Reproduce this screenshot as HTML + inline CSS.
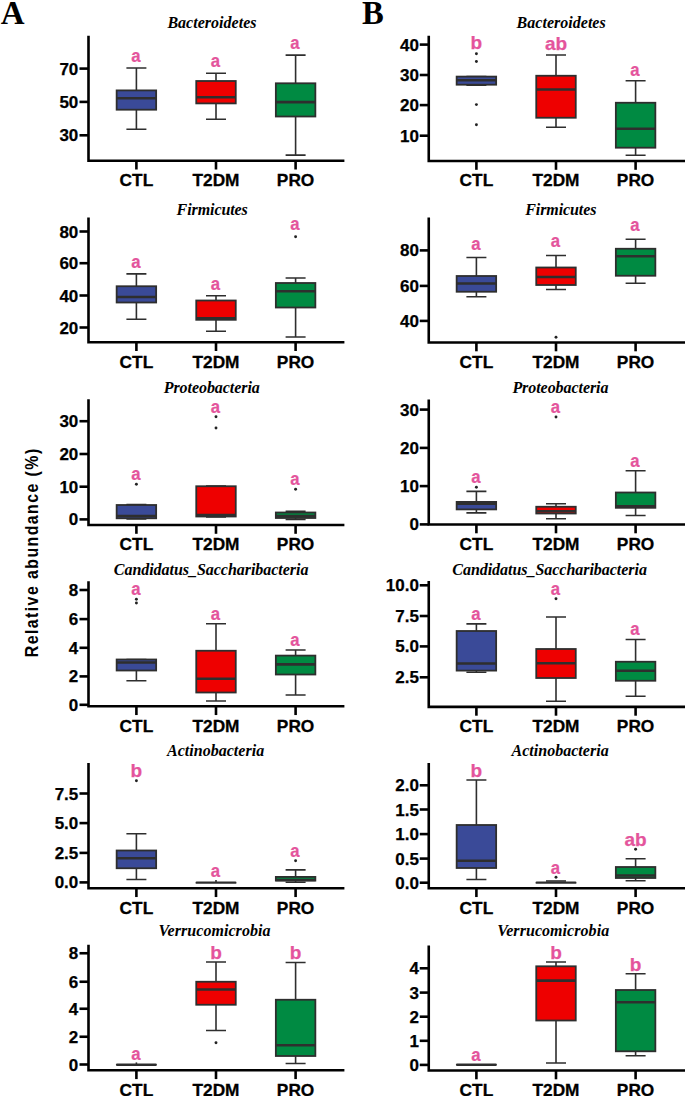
<!DOCTYPE html>
<html><head><meta charset="utf-8"><style>
html,body{margin:0;padding:0;background:#fff;}
body{width:685px;height:1096px;overflow:hidden;}
svg{display:block;}
.t{font-family:"Liberation Serif",serif;font-weight:bold;font-style:italic;font-size:16px;fill:#000;}
.yl{font-family:"Liberation Sans",sans-serif;font-weight:bold;font-size:17px;text-anchor:end;fill:#000;stroke:#000;stroke-width:0.25;}
.xl{font-family:"Liberation Sans",sans-serif;font-weight:bold;font-size:17.3px;text-anchor:middle;fill:#000;stroke:#000;stroke-width:0.3;}
.lt{font-family:"Liberation Sans",sans-serif;font-weight:bold;font-size:19px;text-anchor:middle;fill:#e4549c;stroke:#e4549c;stroke-width:0.25;}
.pl{font-family:"Liberation Serif",serif;font-weight:bold;font-size:34px;fill:#000;}
.yt{font-family:"Liberation Sans",sans-serif;font-weight:bold;font-size:19px;text-anchor:middle;fill:#000;}
.ax{stroke:#000;stroke-width:2.6;fill:none;}
.wh{stroke:#2e2e2e;stroke-width:1.6;fill:none;}
.bx{stroke:#2e2e2e;stroke-width:1.8;}
.md{stroke:#2e2e2e;stroke-width:2.6;}
</style></head><body>
<svg width="685" height="1096" viewBox="0 0 685 1096">
<text class="pl" transform="translate(0.8 23.9) scale(0.97 1)">A</text>
<text class="pl" transform="translate(362.0 23.9) scale(0.96 1)">B</text>
<text class="yt" transform="translate(38.2 552.3) rotate(-90) scale(0.84 1)" letter-spacing="1.67">Relative abundance (%)</text>
<text class="t" x="167.4" y="28" textLength="89.1">Bacteroidetes</text>
<path class="ax" d="M88.5 35.75V160.7H344.4"/>
<path class="ax" d="M79.5 68.6H88.5"/>
<text class="yl" x="78.3" y="74.6">70</text>
<path class="ax" d="M79.5 101.9H88.5"/>
<text class="yl" x="78.3" y="107.9">50</text>
<path class="ax" d="M79.5 135.3H88.5"/>
<text class="yl" x="78.3" y="141.3">30</text>
<path class="ax" d="M136.4 160.7V169.5"/>
<text class="xl" x="136.4" y="186">CTL</text>
<path class="ax" d="M216 160.7V169.5"/>
<text class="xl" x="216" y="186">T2DM</text>
<path class="ax" d="M295.6 160.7V169.5"/>
<text class="xl" x="295.6" y="186">PRO</text>
<path class="wh" d="M136.4 68V90.4M136.4 109.7V129.25M126.4 68H146.4M126.4 129.25H146.4"/>
<rect class="bx" x="116.65" y="90.4" width="39.5" height="19.3" fill="#3a4a98"/>
<path class="md" d="M116.65 98.3H156.15"/>
<text class="lt" transform="translate(135.8 61.7) scale(0.88 1)">a</text>
<path class="wh" d="M216 73.2V81M216 103.4V119.3M206 73.2H226M206 119.3H226"/>
<rect class="bx" x="196.25" y="81" width="39.5" height="22.4" fill="#ee0000"/>
<path class="md" d="M196.25 97.3H235.75"/>
<text class="lt" transform="translate(215.4 66.9) scale(0.88 1)">a</text>
<path class="wh" d="M295.6 55.1V83.3M295.6 116.5V155.1M285.6 55.1H305.6M285.6 155.1H305.6"/>
<rect class="bx" x="275.85" y="83.3" width="39.5" height="33.2" fill="#008a42"/>
<path class="md" d="M275.85 102.1H315.35"/>
<text class="lt" transform="translate(295 49) scale(0.88 1)">a</text>
<text class="t" x="176.6" y="215.1" textLength="71.2">Firmicutes</text>
<path class="ax" d="M88.5 217.5V342.2H344.4"/>
<path class="ax" d="M79.5 231.5H88.5"/>
<text class="yl" x="78.3" y="237.5">80</text>
<path class="ax" d="M79.5 263.2H88.5"/>
<text class="yl" x="78.3" y="269.2">60</text>
<path class="ax" d="M79.5 295.5H88.5"/>
<text class="yl" x="78.3" y="301.5">40</text>
<path class="ax" d="M79.5 327.5H88.5"/>
<text class="yl" x="78.3" y="333.5">20</text>
<path class="ax" d="M136.4 342.2V351"/>
<text class="xl" x="136.4" y="367.5">CTL</text>
<path class="ax" d="M216 342.2V351"/>
<text class="xl" x="216" y="367.5">T2DM</text>
<path class="ax" d="M295.6 342.2V351"/>
<text class="xl" x="295.6" y="367.5">PRO</text>
<path class="wh" d="M136.4 273.9V286.25M136.4 302.5V319.25M126.4 273.9H146.4M126.4 319.25H146.4"/>
<rect class="bx" x="116.65" y="286.25" width="39.5" height="16.25" fill="#3a4a98"/>
<path class="md" d="M116.65 297H156.15"/>
<text class="lt" transform="translate(135.8 268.4) scale(0.88 1)">a</text>
<path class="wh" d="M216 295.75V300.5M216 319.8V331.25M206 295.75H226M206 331.25H226"/>
<rect class="bx" x="196.25" y="300.5" width="39.5" height="19.3" fill="#ee0000"/>
<path class="md" d="M196.25 318.2H235.75"/>
<text class="lt" transform="translate(215.4 289.7) scale(0.88 1)">a</text>
<path class="wh" d="M295.6 278V283M295.6 307.5V337M285.6 278H305.6M285.6 337H305.6"/>
<rect class="bx" x="275.85" y="283" width="39.5" height="24.5" fill="#008a42"/>
<path class="md" d="M275.85 291.25H315.35"/>
<circle cx="295.6" cy="236.75" r="1.45" fill="#222"/>
<text class="lt" transform="translate(295 230.45) scale(0.88 1)">a</text>
<text class="t" x="163.7" y="393" textLength="96.1">Proteobacteria</text>
<path class="ax" d="M88.5 399.25V525H344.4"/>
<path class="ax" d="M79.5 421.2H88.5"/>
<text class="yl" x="78.3" y="427.2">30</text>
<path class="ax" d="M79.5 454H88.5"/>
<text class="yl" x="78.3" y="460">20</text>
<path class="ax" d="M79.5 486.7H88.5"/>
<text class="yl" x="78.3" y="492.7">10</text>
<path class="ax" d="M79.5 519.4H88.5"/>
<text class="yl" x="78.3" y="525.4">0</text>
<path class="ax" d="M136.4 525V533.8"/>
<text class="xl" x="136.4" y="550.3">CTL</text>
<path class="ax" d="M216 525V533.8"/>
<text class="xl" x="216" y="550.3">T2DM</text>
<path class="ax" d="M295.6 525V533.8"/>
<text class="xl" x="295.6" y="550.3">PRO</text>
<path class="wh" d="M136.4 504.5V505M136.4 518.3V519M126.4 504.5H146.4M126.4 519H146.4"/>
<rect class="bx" x="116.65" y="505" width="39.5" height="13.3" fill="#3a4a98"/>
<path class="md" d="M116.65 516H156.15"/>
<circle cx="136.4" cy="484.25" r="1.45" fill="#222"/>
<text class="lt" transform="translate(135.8 480.2) scale(0.88 1)">a</text>
<path class="wh" d="M216 486V486.25M216 516.5V517M206 486H226M206 517H226"/>
<rect class="bx" x="196.25" y="486.25" width="39.5" height="30.25" fill="#ee0000"/>
<path class="md" d="M196.25 515H235.75"/>
<circle cx="216" cy="416.75" r="1.45" fill="#222"/>
<circle cx="216" cy="428" r="1.45" fill="#222"/>
<text class="lt" transform="translate(215.4 412.7) scale(0.88 1)">a</text>
<path class="wh" d="M295.6 511.25V512.5M295.6 518V519.5M285.6 511.25H305.6M285.6 519.5H305.6"/>
<rect class="bx" x="275.85" y="512.5" width="39.5" height="5.5" fill="#008a42"/>
<path class="md" d="M275.85 516H315.35"/>
<circle cx="295.6" cy="489.25" r="1.45" fill="#222"/>
<text class="lt" transform="translate(295 485.2) scale(0.88 1)">a</text>
<text class="t" x="113.8" y="574.5" textLength="194.6">Candidatus_Saccharibacteria</text>
<path class="ax" d="M88.5 581.25V706.25H344.4"/>
<path class="ax" d="M79.5 590H88.5"/>
<text class="yl" x="78.3" y="596">8</text>
<path class="ax" d="M79.5 619.1H88.5"/>
<text class="yl" x="78.3" y="625.1">6</text>
<path class="ax" d="M79.5 647.8H88.5"/>
<text class="yl" x="78.3" y="653.8">4</text>
<path class="ax" d="M79.5 676.4H88.5"/>
<text class="yl" x="78.3" y="682.4">2</text>
<path class="ax" d="M79.5 704.8H88.5"/>
<text class="yl" x="78.3" y="710.8">0</text>
<path class="ax" d="M136.4 706.25V715.05"/>
<text class="xl" x="136.4" y="731.55">CTL</text>
<path class="ax" d="M216 706.25V715.05"/>
<text class="xl" x="216" y="731.55">T2DM</text>
<path class="ax" d="M295.6 706.25V715.05"/>
<text class="xl" x="295.6" y="731.55">PRO</text>
<path class="wh" d="M136.4 659.5V659.5M136.4 670.5V680.75M126.4 659.5H146.4M126.4 680.75H146.4"/>
<rect class="bx" x="116.65" y="659.5" width="39.5" height="11" fill="#3a4a98"/>
<path class="md" d="M116.65 662.5H156.15"/>
<circle cx="136.4" cy="599.25" r="1.45" fill="#222"/>
<circle cx="136.4" cy="603" r="1.45" fill="#222"/>
<text class="lt" transform="translate(135.8 594.7) scale(0.88 1)">a</text>
<path class="wh" d="M216 623.75V650.75M216 692.5V701M206 623.75H226M206 701H226"/>
<rect class="bx" x="196.25" y="650.75" width="39.5" height="41.75" fill="#ee0000"/>
<path class="md" d="M196.25 678.75H235.75"/>
<text class="lt" transform="translate(215.4 619.7) scale(0.88 1)">a</text>
<path class="wh" d="M295.6 650V655.6M295.6 674.5V695M285.6 650H305.6M285.6 695H305.6"/>
<rect class="bx" x="275.85" y="655.6" width="39.5" height="18.9" fill="#008a42"/>
<path class="md" d="M275.85 664.4H315.35"/>
<text class="lt" transform="translate(295 645.95) scale(0.88 1)">a</text>
<text class="t" x="167" y="755.7" textLength="97.2">Actinobacteria</text>
<path class="ax" d="M88.5 763V888.25H344.4"/>
<path class="ax" d="M79.5 793.5H88.5"/>
<text class="yl" x="78.3" y="799.5">7.5</text>
<path class="ax" d="M79.5 823.1H88.5"/>
<text class="yl" x="78.3" y="829.1">5.0</text>
<path class="ax" d="M79.5 852.9H88.5"/>
<text class="yl" x="78.3" y="858.9">2.5</text>
<path class="ax" d="M79.5 882.4H88.5"/>
<text class="yl" x="78.3" y="888.4">0.0</text>
<path class="ax" d="M136.4 888.25V897.05"/>
<text class="xl" x="136.4" y="913.55">CTL</text>
<path class="ax" d="M216 888.25V897.05"/>
<text class="xl" x="216" y="913.55">T2DM</text>
<path class="ax" d="M295.6 888.25V897.05"/>
<text class="xl" x="295.6" y="913.55">PRO</text>
<path class="wh" d="M136.4 833.75V850.5M136.4 868.25V879.5M126.4 833.75H146.4M126.4 879.5H146.4"/>
<rect class="bx" x="116.65" y="850.5" width="39.5" height="17.75" fill="#3a4a98"/>
<path class="md" d="M116.65 858.25H156.15"/>
<circle cx="136.4" cy="780.75" r="1.45" fill="#222"/>
<text class="lt" x="136.4" y="776.7">b</text>
<path class="wh" d="M216 880V882.65"/>
<path d="M196.7 882.65H235.3" stroke="#2e2e2e" stroke-width="2.4" stroke-linecap="round"/>
<text class="lt" transform="translate(215.4 877.3) scale(0.88 1)">a</text>
<path class="wh" d="M295.6 869.9V876.9M295.6 880.6V882.2M285.6 869.9H305.6M285.6 882.2H305.6"/>
<rect class="bx" x="275.85" y="876.9" width="39.5" height="3.7" fill="#008a42"/>
<path class="md" d="M275.85 880H315.35"/>
<circle cx="295.6" cy="860.75" r="1.45" fill="#222"/>
<text class="lt" transform="translate(295 857.2) scale(0.88 1)">a</text>
<text class="t" x="158.6" y="935.9" textLength="111.9">Verrucomicrobia</text>
<path class="ax" d="M88.5 944.8V1070.3H344.4"/>
<path class="ax" d="M79.5 953.25H88.5"/>
<text class="yl" x="78.3" y="959.25">8</text>
<path class="ax" d="M79.5 981.75H88.5"/>
<text class="yl" x="78.3" y="987.75">6</text>
<path class="ax" d="M79.5 1008.75H88.5"/>
<text class="yl" x="78.3" y="1014.75">4</text>
<path class="ax" d="M79.5 1036.75H88.5"/>
<text class="yl" x="78.3" y="1042.75">2</text>
<path class="ax" d="M79.5 1064.5H88.5"/>
<text class="yl" x="78.3" y="1070.5">0</text>
<path class="ax" d="M136.4 1070.3V1079.1"/>
<text class="xl" x="136.4" y="1095.6">CTL</text>
<path class="ax" d="M216 1070.3V1079.1"/>
<text class="xl" x="216" y="1095.6">T2DM</text>
<path class="ax" d="M295.6 1070.3V1079.1"/>
<text class="xl" x="295.6" y="1095.6">PRO</text>
<path class="wh" d="M136.4 1062.4V1064.7"/>
<path d="M117.1 1064.7H155.7" stroke="#2e2e2e" stroke-width="2.4" stroke-linecap="round"/>
<text class="lt" transform="translate(135.8 1059.8) scale(0.88 1)">a</text>
<path class="wh" d="M216 962V981.75M216 1004.75V1030.5M206 962H226M206 1030.5H226"/>
<rect class="bx" x="196.25" y="981.75" width="39.5" height="23" fill="#ee0000"/>
<path class="md" d="M196.25 989.5H235.75"/>
<circle cx="216" cy="1042.75" r="1.45" fill="#222"/>
<text class="lt" x="216" y="958.7">b</text>
<path class="wh" d="M295.6 962.5V999.75M295.6 1056V1063.5M285.6 962.5H305.6M285.6 1063.5H305.6"/>
<rect class="bx" x="275.85" y="999.75" width="39.5" height="56.25" fill="#008a42"/>
<path class="md" d="M275.85 1045.25H315.35"/>
<text class="lt" x="295.6" y="958.95">b</text>
<text class="t" x="516.6" y="28" textLength="89.1">Bacteroidetes</text>
<path class="ax" d="M428.75 35.75V161H685.5"/>
<path class="ax" d="M419.75 44.6H428.75"/>
<text class="yl" x="418.95" y="50.6">40</text>
<path class="ax" d="M419.75 75H428.75"/>
<text class="yl" x="418.95" y="81">30</text>
<path class="ax" d="M419.75 105.1H428.75"/>
<text class="yl" x="418.95" y="111.1">20</text>
<path class="ax" d="M419.75 135.7H428.75"/>
<text class="yl" x="418.95" y="141.7">10</text>
<path class="ax" d="M476.4 161V169.8"/>
<text class="xl" x="476.4" y="186.3">CTL</text>
<path class="ax" d="M556 161V169.8"/>
<text class="xl" x="556" y="186.3">T2DM</text>
<path class="ax" d="M635.6 161V169.8"/>
<text class="xl" x="635.6" y="186.3">PRO</text>
<path class="wh" d="M476.4 76.6V76.6M476.4 84.7V85.2M466.4 76.6H486.4M466.4 85.2H486.4"/>
<rect class="bx" x="456.65" y="76.6" width="39.5" height="8.1" fill="#3a4a98"/>
<path class="md" d="M456.65 80.3H496.15"/>
<circle cx="476.4" cy="53.7" r="1.45" fill="#222"/>
<circle cx="476.4" cy="61.5" r="1.45" fill="#222"/>
<circle cx="476.4" cy="104.6" r="1.45" fill="#222"/>
<circle cx="476.4" cy="124.8" r="1.45" fill="#222"/>
<text class="lt" x="476.4" y="48.95">b</text>
<path class="wh" d="M556 55V75.75M556 117.75V127.25M546 55H566M546 127.25H566"/>
<rect class="bx" x="536.25" y="75.75" width="39.5" height="42" fill="#ee0000"/>
<path class="md" d="M536.25 89.5H575.75"/>
<text class="lt" x="556" y="50.3">ab</text>
<path class="wh" d="M635.6 80.75V102.75M635.6 147.7V155.3M625.6 80.75H645.6M625.6 155.3H645.6"/>
<rect class="bx" x="615.85" y="102.75" width="39.5" height="44.95" fill="#008a42"/>
<path class="md" d="M615.85 128.75H655.35"/>
<text class="lt" transform="translate(635 75.95) scale(0.88 1)">a</text>
<text class="t" x="525.25" y="215.1" textLength="71.2">Firmicutes</text>
<path class="ax" d="M428.75 217.5V342.5H685.5"/>
<path class="ax" d="M419.75 250.4H428.75"/>
<text class="yl" x="418.95" y="256.4">80</text>
<path class="ax" d="M419.75 285.9H428.75"/>
<text class="yl" x="418.95" y="291.9">60</text>
<path class="ax" d="M419.75 320.9H428.75"/>
<text class="yl" x="418.95" y="326.9">40</text>
<path class="ax" d="M476.4 342.5V351.3"/>
<text class="xl" x="476.4" y="367.8">CTL</text>
<path class="ax" d="M556 342.5V351.3"/>
<text class="xl" x="556" y="367.8">T2DM</text>
<path class="ax" d="M635.6 342.5V351.3"/>
<text class="xl" x="635.6" y="367.8">PRO</text>
<path class="wh" d="M476.4 257.5V276M476.4 291.75V296.75M466.4 257.5H486.4M466.4 296.75H486.4"/>
<rect class="bx" x="456.65" y="276" width="39.5" height="15.75" fill="#3a4a98"/>
<path class="md" d="M456.65 283.5H496.15"/>
<text class="lt" transform="translate(475.8 249.7) scale(0.88 1)">a</text>
<path class="wh" d="M556 255.5V267.5M556 285V289.5M546 255.5H566M546 289.5H566"/>
<rect class="bx" x="536.25" y="267.5" width="39.5" height="17.5" fill="#ee0000"/>
<path class="md" d="M536.25 277H575.75"/>
<circle cx="556" cy="337.25" r="1.45" fill="#222"/>
<text class="lt" transform="translate(555.4 247.2) scale(0.88 1)">a</text>
<path class="wh" d="M635.6 239.25V248.75M635.6 275.75V283.25M625.6 239.25H645.6M625.6 283.25H645.6"/>
<rect class="bx" x="615.85" y="248.75" width="39.5" height="27" fill="#008a42"/>
<path class="md" d="M615.85 256.25H655.35"/>
<text class="lt" transform="translate(635 230.95) scale(0.88 1)">a</text>
<text class="t" x="512.4" y="393" textLength="96.1">Proteobacteria</text>
<path class="ax" d="M428.75 399.5V524.5H685.5"/>
<path class="ax" d="M419.75 409.6H428.75"/>
<text class="yl" x="418.95" y="415.6">30</text>
<path class="ax" d="M419.75 447.9H428.75"/>
<text class="yl" x="418.95" y="453.9">20</text>
<path class="ax" d="M419.75 486.1H428.75"/>
<text class="yl" x="418.95" y="492.1">10</text>
<path class="ax" d="M419.75 524.4H428.75"/>
<text class="yl" x="418.95" y="530.4">0</text>
<path class="ax" d="M476.4 524.5V533.3"/>
<text class="xl" x="476.4" y="549.8">CTL</text>
<path class="ax" d="M556 524.5V533.3"/>
<text class="xl" x="556" y="549.8">T2DM</text>
<path class="ax" d="M635.6 524.5V533.3"/>
<text class="xl" x="635.6" y="549.8">PRO</text>
<path class="wh" d="M476.4 491.4V501.9M476.4 509.4V512.9M466.4 491.4H486.4M466.4 512.9H486.4"/>
<rect class="bx" x="456.65" y="501.9" width="39.5" height="7.5" fill="#3a4a98"/>
<path class="md" d="M456.65 503.6H496.15"/>
<circle cx="476.4" cy="487.2" r="1.45" fill="#222"/>
<text class="lt" transform="translate(475.8 482.8) scale(0.88 1)">a</text>
<path class="wh" d="M556 503.75V506.75M556 513.5V518.75M546 503.75H566M546 518.75H566"/>
<rect class="bx" x="536.25" y="506.75" width="39.5" height="6.75" fill="#ee0000"/>
<path class="md" d="M536.25 511.25H575.75"/>
<circle cx="556" cy="417" r="1.45" fill="#222"/>
<text class="lt" transform="translate(555.4 412.95) scale(0.88 1)">a</text>
<path class="wh" d="M635.6 470.75V492.5M635.6 507.8V515.5M625.6 470.75H645.6M625.6 515.5H645.6"/>
<rect class="bx" x="615.85" y="492.5" width="39.5" height="15.3" fill="#008a42"/>
<path class="md" d="M615.85 506.3H655.35"/>
<text class="lt" transform="translate(635 466.7) scale(0.88 1)">a</text>
<text class="t" x="452.3" y="574.5" textLength="194.6">Candidatus_Saccharibacteria</text>
<path class="ax" d="M428.75 581V706.9H685.5"/>
<path class="ax" d="M419.75 585.3H428.75"/>
<text class="yl" x="418.95" y="591.3">10.0</text>
<path class="ax" d="M419.75 616H428.75"/>
<text class="yl" x="418.95" y="622">7.5</text>
<path class="ax" d="M419.75 646.4H428.75"/>
<text class="yl" x="418.95" y="652.4">5.0</text>
<path class="ax" d="M419.75 677.3H428.75"/>
<text class="yl" x="418.95" y="683.3">2.5</text>
<path class="ax" d="M476.4 706.9V715.7"/>
<text class="xl" x="476.4" y="732.2">CTL</text>
<path class="ax" d="M556 706.9V715.7"/>
<text class="xl" x="556" y="732.2">T2DM</text>
<path class="ax" d="M635.6 706.9V715.7"/>
<text class="xl" x="635.6" y="732.2">PRO</text>
<path class="wh" d="M476.4 623.9V631M476.4 670.6V672.3M466.4 623.9H486.4M466.4 672.3H486.4"/>
<rect class="bx" x="456.65" y="631" width="39.5" height="39.6" fill="#3a4a98"/>
<path class="md" d="M456.65 663.5H496.15"/>
<text class="lt" transform="translate(475.8 620.2) scale(0.88 1)">a</text>
<path class="wh" d="M556 617V649M556 678V701.25M546 617H566M546 701.25H566"/>
<rect class="bx" x="536.25" y="649" width="39.5" height="29" fill="#ee0000"/>
<path class="md" d="M536.25 663.25H575.75"/>
<circle cx="556" cy="598.75" r="1.45" fill="#222"/>
<text class="lt" transform="translate(555.4 594.7) scale(0.88 1)">a</text>
<path class="wh" d="M635.6 639.5V661.75M635.6 680.75V696.25M625.6 639.5H645.6M625.6 696.25H645.6"/>
<rect class="bx" x="615.85" y="661.75" width="39.5" height="19" fill="#008a42"/>
<path class="md" d="M615.85 670.75H655.35"/>
<text class="lt" transform="translate(635 635.2) scale(0.88 1)">a</text>
<text class="t" x="511.5" y="755.7" textLength="97.2">Actinobacteria</text>
<path class="ax" d="M428.75 763V888.25H685.5"/>
<path class="ax" d="M419.75 785.3H428.75"/>
<text class="yl" x="418.95" y="791.3">2.0</text>
<path class="ax" d="M419.75 809.5H428.75"/>
<text class="yl" x="418.95" y="815.5">1.5</text>
<path class="ax" d="M419.75 834.1H428.75"/>
<text class="yl" x="418.95" y="840.1">1.0</text>
<path class="ax" d="M419.75 858.6H428.75"/>
<text class="yl" x="418.95" y="864.6">0.5</text>
<path class="ax" d="M419.75 882.7H428.75"/>
<text class="yl" x="418.95" y="888.7">0.0</text>
<path class="ax" d="M476.4 888.25V897.05"/>
<text class="xl" x="476.4" y="913.55">CTL</text>
<path class="ax" d="M556 888.25V897.05"/>
<text class="xl" x="556" y="913.55">T2DM</text>
<path class="ax" d="M635.6 888.25V897.05"/>
<text class="xl" x="635.6" y="913.55">PRO</text>
<path class="wh" d="M476.4 780V825M476.4 868V879.5M466.4 780H486.4M466.4 879.5H486.4"/>
<rect class="bx" x="456.65" y="825" width="39.5" height="43" fill="#3a4a98"/>
<path class="md" d="M456.65 860.75H496.15"/>
<text class="lt" x="476.4" y="776.7">b</text>
<path class="wh" d="M546 881H566"/>
<path d="M536.7 882.65H575.3" stroke="#2e2e2e" stroke-width="2.4" stroke-linecap="round"/>
<circle cx="556" cy="877.3" r="1.45" fill="#222"/>
<text class="lt" transform="translate(555.4 873.9) scale(0.88 1)">a</text>
<path class="wh" d="M635.6 858.75V867M635.6 878V880.75M625.6 858.75H645.6M625.6 880.75H645.6"/>
<rect class="bx" x="615.85" y="867" width="39.5" height="11" fill="#008a42"/>
<path class="md" d="M615.85 875.5H655.35"/>
<circle cx="635.6" cy="849.25" r="1.45" fill="#222"/>
<text class="lt" x="635.6" y="846.1">ab</text>
<text class="t" x="497.25" y="935.9" textLength="111.9">Verrucomicrobia</text>
<path class="ax" d="M428.75 945.5V1070.5H685.5"/>
<path class="ax" d="M419.75 968.3H428.75"/>
<text class="yl" x="418.95" y="974.3">4</text>
<path class="ax" d="M419.75 992.6H428.75"/>
<text class="yl" x="418.95" y="998.6">3</text>
<path class="ax" d="M419.75 1016.7H428.75"/>
<text class="yl" x="418.95" y="1022.7">2</text>
<path class="ax" d="M419.75 1040.8H428.75"/>
<text class="yl" x="418.95" y="1046.8">1</text>
<path class="ax" d="M419.75 1064.9H428.75"/>
<text class="yl" x="418.95" y="1070.9">0</text>
<path class="ax" d="M476.4 1070.5V1079.3"/>
<text class="xl" x="476.4" y="1095.8">CTL</text>
<path class="ax" d="M556 1070.5V1079.3"/>
<text class="xl" x="556" y="1095.8">T2DM</text>
<path class="ax" d="M635.6 1070.5V1079.3"/>
<text class="xl" x="635.6" y="1095.8">PRO</text>
<path d="M457.1 1064.7H495.7" stroke="#2e2e2e" stroke-width="2.4" stroke-linecap="round"/>
<text class="lt" transform="translate(475.8 1060.5) scale(0.88 1)">a</text>
<path class="wh" d="M556 962V966.3M556 1020.5V1063M546 962H566M546 1063H566"/>
<rect class="bx" x="536.25" y="966.3" width="39.5" height="54.2" fill="#ee0000"/>
<path class="md" d="M536.25 980.6H575.75"/>
<text class="lt" x="556" y="958.95">b</text>
<path class="wh" d="M635.6 973.75V990M635.6 1051.3V1055.7M625.6 973.75H645.6M625.6 1055.7H645.6"/>
<rect class="bx" x="615.85" y="990" width="39.5" height="61.3" fill="#008a42"/>
<path class="md" d="M615.85 1002.3H655.35"/>
<text class="lt" x="635.6" y="970.95">b</text>
</svg>
</body></html>
